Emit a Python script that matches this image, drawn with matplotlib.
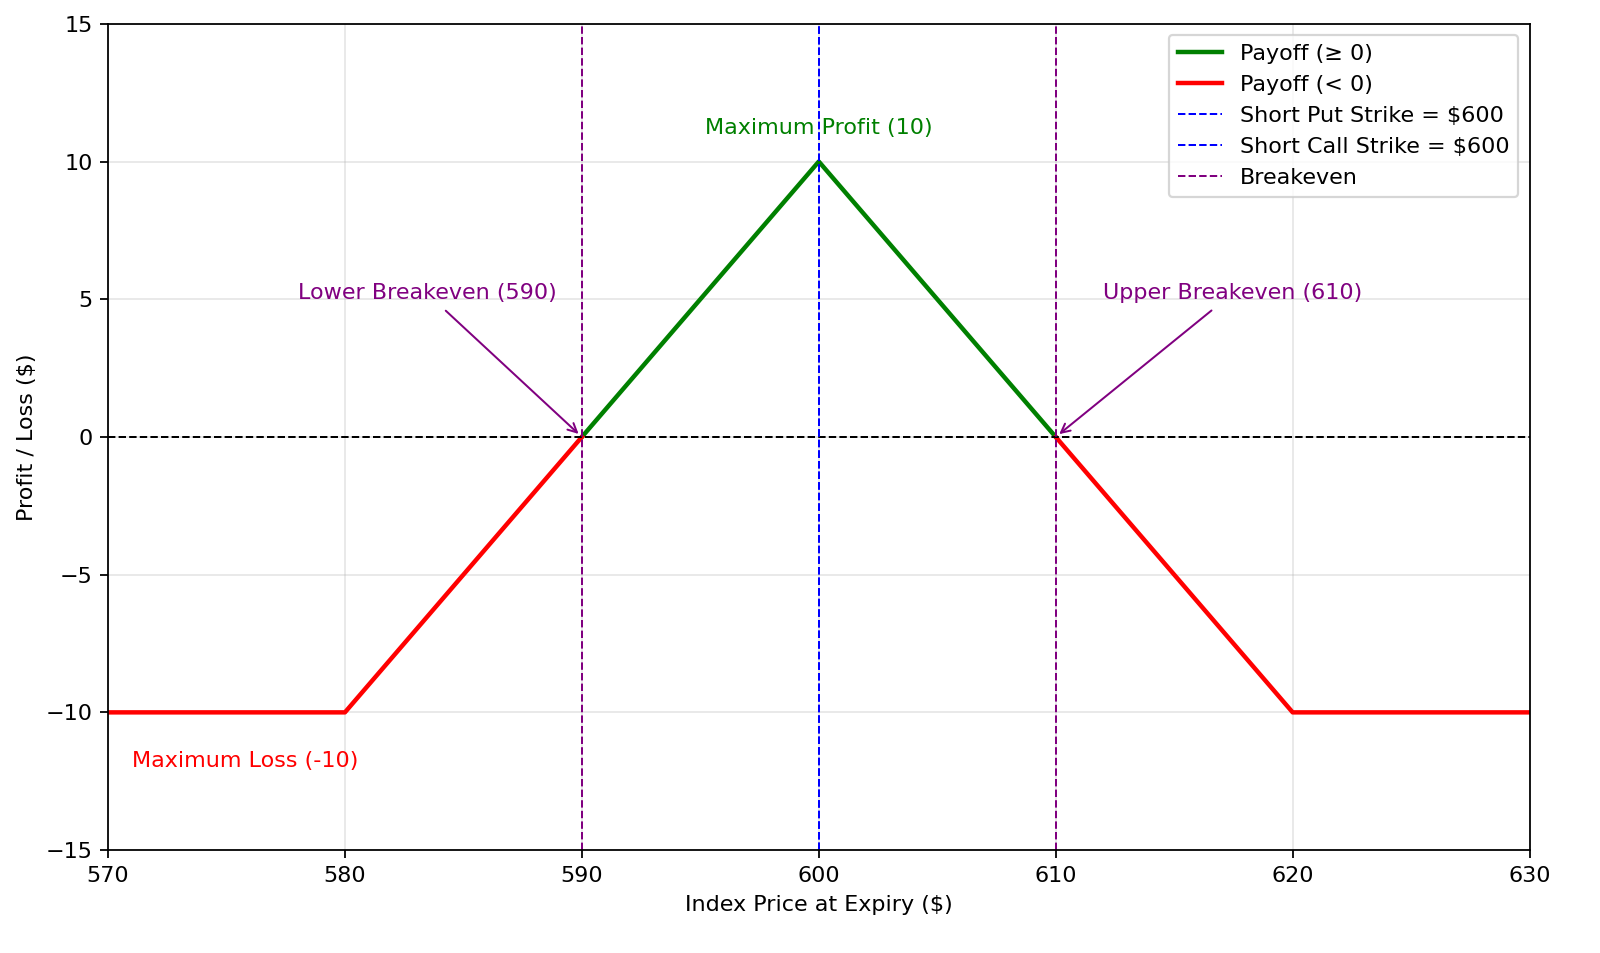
import numpy as np
import matplotlib
matplotlib.use("Agg")
import matplotlib.pyplot as plt

# iron butterfly payoff, kink points
green_x = [590, 600, 610]
green_y = [0, 10, 0]
red_x = [570, 580, 590, np.nan, 610, 620, 630]
red_y = [-10, -10, 0, np.nan, 0, -10, -10]

short_put = 600
short_call = 600
breakevens = [590, 610]
max_profit = 10
max_loss = -10

fig, ax = plt.subplots(figsize=(10, 5.95625), dpi=160)

ax.plot(green_x, green_y, color='green', lw=2, label='Payoff (≥ 0)')
ax.plot(red_x, red_y, color='red', lw=2, label='Payoff (< 0)')
ax.axhline(0, color='black', ls='--', lw=0.9)
ax.axvline(short_put, color='blue', ls='--', lw=0.9, label=f'Short Put Strike = ${short_put}')
ax.axvline(short_call, color='blue', ls='--', lw=0.9, label=f'Short Call Strike = ${short_call}')
ax.axvline(breakevens[0], color='purple', ls='--', lw=0.9, label='Breakeven')
ax.axvline(breakevens[1], color='purple', ls='--', lw=0.9)

ax.annotate(f'Lower Breakeven ({breakevens[0]})', xy=(breakevens[0], 0), xytext=(578, 5),
            color='purple', arrowprops=dict(arrowstyle='->', color='purple', lw=0.9))
ax.annotate(f'Upper Breakeven ({breakevens[1]})', xy=(breakevens[1], 0), xytext=(612, 5),
            color='purple', arrowprops=dict(arrowstyle='->', color='purple', lw=0.9))
ax.text(600, 11, f'Maximum Profit ({max_profit})', color='green', ha='center')
ax.text(571, -12, f'Maximum Loss ({max_loss})', color='red')

ax.set_xlim(570, 630)
ax.set_ylim(-15, 15)
ax.set_xlabel('Index Price at Expiry ($)')
ax.set_ylabel('Profit / Loss ($)')
ax.grid(alpha=0.3)
ax.legend(loc='upper right')

plt.subplots_adjust(left=0.0675, right=0.956, top=0.975, bottom=0.108)
plt.savefig('out.png')
